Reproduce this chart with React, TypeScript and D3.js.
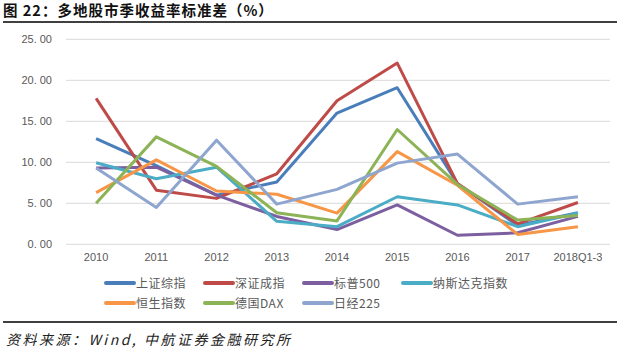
import React from "react";
import * as d3 from "d3";

const categories = ["2010", "2011", "2012", "2013", "2014", "2015", "2016", "2017", "2018Q1-3"];
const yTicks = [0, 5, 10, 15, 20, 25];

const shanghai = [12.9, 9.6, 6.0, 7.6, 16.0, 19.1, 7.4, 2.3, 3.85];
const shenzhen = [17.8, 6.6, 5.6, 8.6, 17.5, 22.1, 7.4, 2.5, 5.1];
const sp500 = [9.3, 9.4, 6.0, 3.4, 1.8, 4.8, 1.1, 1.4, 3.4];
const nasdaq = [9.95, 8.0, 9.4, 2.8, 2.15, 5.8, 4.8, 2.15, 3.8];
const hangseng = [6.3, 10.3, 6.5, 6.1, 3.8, 11.3, 7.2, 1.2, 2.15];
const dax = [5.0, 13.1, 9.5, 3.85, 2.85, 14.0, 7.3, 2.95, 3.5];
const nikkei = [9.3, 4.5, 12.7, 4.9, 6.7, 9.9, 11.0, 4.9, 5.8];

const seriesNames = ["上证综指", "深证成指", "标普500", "纳斯达克指数", "恒生指数", "德国DAX", "日经225"];
const seriesColors = ["#4a7ebb", "#be4b48", "#7d5fa0", "#4bacc6", "#f79646", "#8cb356", "#8ea5cf"];
const seriesData = [shanghai, shenzhen, sp500, nasdaq, hangseng, dax, nikkei];

export default function App() {
  const W = 628, H = 354;
  const x = d3.scaleBand<string>().domain(categories).range([66, 608]);
  const y = d3.scaleLinear().domain([0, 25]).range([244.3, 39.3]);
  const line = d3
    .line<number>()
    .x((_, i) => (x(categories[i]) as number) + x.bandwidth() / 2)
    .y((d) => y(d));

  const font = "'Noto Sans CJK SC', 'Noto Sans', sans-serif";
  const legendRows = [
    [0, 1, 2, 3],
    [4, 5, 6],
  ];

  return (
    <svg width={W} height={H} style={{ position: "fixed", left: 0, top: 0, background: "#fff" }}>
      <rect width={W} height={H} fill="#fff" />
      <text x={3} y={16} fontFamily={font} fontWeight="bold" fontSize={14.5} letterSpacing={1} fill="#111">
        图 22：多地股市季收益率标准差（%）
      </text>
      <line x1={3} x2={617} y1={22} y2={22} stroke="#000" strokeWidth={1.5} />

      {yTicks.map((t) => (
        <g key={t}>
          <line x1={66} x2={610} y1={y(t)} y2={y(t)} stroke="#d9d9d9" strokeWidth={1} />
          <text x={52} y={y(t) + 4} textAnchor="end" fontFamily="'Liberation Sans', Arial, sans-serif" fontSize={11} fill="#595959">
            {t.toFixed(2).replace(".", ". ")}
          </text>
        </g>
      ))}

      {categories.map((c) => (
        <text key={c} x={(x(c) as number) + x.bandwidth() / 2} y={261} textAnchor="middle" fontFamily="'Liberation Sans', Arial, sans-serif" fontSize={11} fill="#595959">
          {c}
        </text>
      ))}

      {seriesData.map((s, i) => (
        <path key={i} d={line(s) || ""} fill="none" stroke={seriesColors[i]} strokeWidth={3} strokeLinejoin="round" />
      ))}

      {legendRows.map((row, r) =>
        row.map((idx, k) => {
          const lx = 106 + k * 99;
          const ly = 283 + r * 20;
          return (
            <g key={idx}>
              <line x1={lx} x2={lx + 28} y1={ly} y2={ly} stroke={seriesColors[idx]} strokeWidth={4} strokeLinecap="round" />
              <text x={lx + 30} y={ly + 4.5} fontFamily={font} fontSize={12} letterSpacing={0.5} fill="#595959">
                {seriesNames[idx]}
              </text>
            </g>
          );
        })
      )}

      <line x1={3} x2={617} y1={322} y2={322} stroke="#000" strokeWidth={1.5} />
      <text x={6} y={345} fontFamily={font} fontStyle="italic" fontSize={14} letterSpacing={2.5} fill="#222">
        资料来源：Wind, 中航证券金融研究所
      </text>
    </svg>
  );
}
